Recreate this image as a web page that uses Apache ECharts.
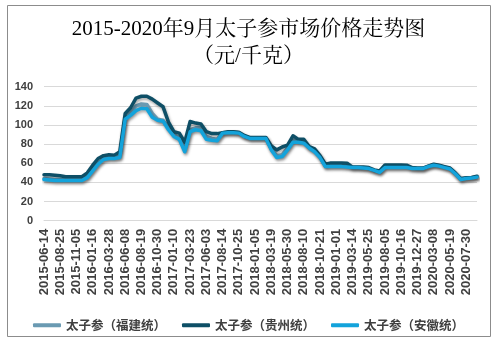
<!DOCTYPE html>
<html>
<head>
<meta charset="utf-8">
<script src="https://cdn.jsdelivr.net/npm/echarts@6/dist/echarts.min.js"></script>
<style>html,body{margin:0;padding:0;background:#fff;}#c{width:497px;height:342px;}</style>
</head>
<body>
<div id="c"></div>
<script>
const titleText = '2015-2020年9月太子参市场价格走势图';
const subtitleText = '（元/千克）';
const seriesNames = ['太子参（福建统）', '太子参（贵州统）', '太子参（安徽统）'];
const dates = [
'2015-06-14','2015-07-08','2015-08-01',
'2015-08-25','2015-09-18','2015-10-12',
'2015-11-05','2015-11-29','2015-12-23',
'2016-01-16','2016-02-09','2016-03-04',
'2016-03-28','2016-04-21','2016-05-15',
'2016-06-08','2016-07-02','2016-07-26',
'2016-08-19','2016-09-12','2016-10-06',
'2016-10-30','2016-11-23','2016-12-17',
'2017-01-10','2017-02-03','2017-02-27',
'2017-03-23','2017-04-16','2017-05-10',
'2017-06-03','2017-06-27','2017-07-21',
'2017-08-14','2017-09-07','2017-10-01',
'2017-10-25','2017-11-18','2017-12-12',
'2018-01-05','2018-01-29','2018-02-22',
'2018-03-19','2018-04-12','2018-05-06',
'2018-05-30','2018-06-23','2018-07-17',
'2018-08-10','2018-09-03','2018-09-27',
'2018-10-21','2018-11-14','2018-12-08',
'2019-01-01','2019-01-25','2019-02-18',
'2019-03-14','2019-04-07','2019-05-01',
'2019-05-25','2019-06-18','2019-07-12',
'2019-08-05','2019-08-29','2019-09-22',
'2019-10-16','2019-11-09','2019-12-03',
'2019-12-27','2020-01-20','2020-02-13',
'2020-03-08','2020-04-01','2020-04-25',
'2020-05-19','2020-06-12','2020-07-06',
'2020-07-30','2020-08-23','2020-09-16'
];
const fujian = [
44,43.5,43, 43,43,43, 43,43,46, 53,60,65, 66,66,67, 108,113,120,
122,121.5,112, 106,105,97, 90,87,74, 95,97,97, 88,86,85, 92,92.5,92.5,
92,88.5,86.5, 86.5,86.5,86.5, 75,68,69, 76,84,83, 82.5,76.5,73, 67,57,57.5,
57.5,57.5,57, 55.5,55.5,55, 54.5,52.5,51, 56,56,56, 56,56,55, 54.5,54.5,57,
58.5,57.5,56, 54.5,49.5,43.5, 44.5,45,46
];
const guizhou = [
48,48,47.5, 47,46,45.8, 45.8,46,50, 58,65,68, 69,68.5,72, 112,118,128,
130,130,127, 123,119,103, 93,91.5,82, 103.7,102,101, 93,91,91, 92,93,93,
92.5,89,87, 87,87,87, 78,74,77, 79,88.7,85, 85,77.5,75, 68,59,60.4,
60.4,60.4,60, 56,56,56, 55.5,53,52, 58.3,58.3,58.3, 58.3,58,55.5, 55,55,57,
59,58,56.5, 55,50,44, 45,45.2,46.5
];
const anhui = [
43,42.5,42, 42,42,42, 42,42,45, 52,59,64, 65,65,66, 106,110,115,
117.5,117,108, 105,104,95, 88,85,72, 93,95,94, 85,84,83.5, 91.5,92,92,
91.5,88,86, 86,86,86, 74,66,67, 74,82,82, 81,76,72, 66,56.5,56.5,
56.5,56.5,56, 55.5,55.5,55, 54.5,52.5,50.5, 55.5,55.5,55.5, 55.5,55.5,54.5, 54.5,54.5,56.5,
58,57,55.5, 54,49,43, 44,44.5,45.5
];
const yTicks = [0, 20, 40, 60, 80, 100, 120, 140];

const colors = ['#6A9AB2', '#0E4F66', '#13A3DB'];
const chart = echarts.init(document.getElementById('c'), null, {renderer: 'canvas'});
const lineShadow = {shadowColor: 'rgba(0,0,0,0.35)', shadowBlur: 3, shadowOffsetX: 1, shadowOffsetY: 2};
function mk(name, data, color) {
  return {
    name: name, type: 'line', data: data, showSymbol: false, symbol: 'none',
    smooth: false, color: color,
    lineStyle: Object.assign({width: 3.5, color: color, cap: 'round', join: 'round'}, lineShadow)
  };
}
const titleFont = {
  fontFamily: '"Liberation Serif","Noto Serif CJK SC","Noto Sans CJK SC",serif',
  fontSize: 21, fontWeight: 'normal', color: '#000'
};
chart.setOption({
  animation: false,
  backgroundColor: '#fff',
  title: [
    {text: titleText, left: 'center', top: 19, padding: 0, textStyle: titleFont},
    {text: subtitleText, left: 'center', top: 46, padding: 0, textStyle: titleFont}
  ],
  graphic: [{
    type: 'rect', silent: true, z: -1,
    shape: {x: 7.5, y: 5.5, width: 483, height: 331},
    style: {fill: 'none', stroke: '#8c8c8c', lineWidth: 1}
  }],
  legend: {
    data: seriesNames, top: 314, left: 'center',
    icon: 'roundRect', itemWidth: 28, itemHeight: 4, itemGap: 16,
    textStyle: {fontFamily: '"Noto Sans CJK SC",sans-serif', fontSize: 12.5, fontWeight: 'bold', color: '#404040'}
  },
  grid: {left: 44, right: 20, top: 86.7, bottom: 121.3, containLabel: false},
  xAxis: {
    type: 'category', data: dates, boundaryGap: false,
    axisLine: {show: true, lineStyle: {color: '#d9d9d9', width: 1}},
    axisTick: {show: false},
    axisLabel: {
      interval: 2, rotate: 90, margin: 8,
      fontFamily: '"Liberation Sans",Arial,sans-serif', fontSize: 13, fontWeight: 'bold', color: '#404040'
    },
    splitLine: {show: false}
  },
  yAxis: {
    type: 'value', min: yTicks[0], max: yTicks[yTicks.length - 1], interval: 20,
    axisLine: {show: false}, axisTick: {show: false},
    axisLabel: {margin: 11, fontFamily: '"Liberation Sans",Arial,sans-serif', fontSize: 11, fontWeight: 'bold', color: '#404040'},
    splitLine: {lineStyle: {color: '#d9d9d9', width: 1}}
  },
  series: [
    mk(seriesNames[0], fujian, colors[0]),
    mk(seriesNames[1], guizhou, colors[1]),
    mk(seriesNames[2], anhui, colors[2])
  ]
});
</script>
</body>
</html>
